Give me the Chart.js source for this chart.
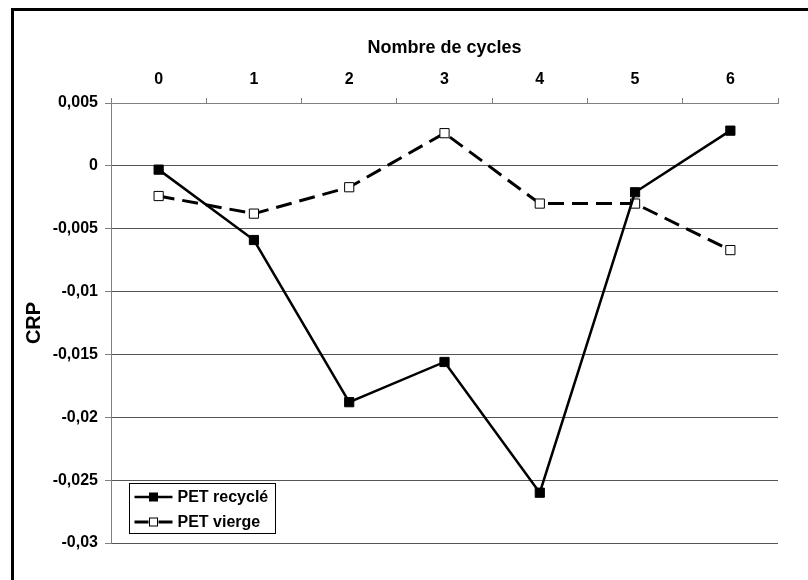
<!DOCTYPE html>
<html>
<head>
<meta charset="utf-8">
<script src="https://cdn.jsdelivr.net/npm/chart.js@4.4.0/dist/chart.umd.min.js"></script>
<style>
  html, body { margin: 0; padding: 0; background: #fff; }
  #wrap { width: 808px; height: 580px; }
</style>
</head>
<body>
<div id="wrap"><canvas id="myChart" width="808" height="580"></canvas></div>
<script>
// CRP values per cycle
const cycles = ['0', '1', '2', '3', '4', '5', '6']
const petRecycle = [-0.0003, -0.0059, -0.0188, -0.0156, -0.026, -0.0021, 0.0028]
const petVierge = [-0.0024, -0.0038, -0.0017, 0.0026, -0.003, -0.003, -0.0067]
const seriesNames = ['PET recyclé', 'PET vierge']
const yTicks = [0.005, 0, -0.005, -0.01, -0.015, -0.02, -0.025, -0.03]

Chart.defaults.font.family = "'Liberation Sans', Arial, sans-serif"
Chart.defaults.color = '#000'

const boldFont = (size) => ({ size: size, weight: 'bold' })

// thick black frame around the figure (only top and left edges fit in view)
const framePlugin = {
    id: 'frame',
    beforeDraw(chart) {
        const ctx = chart.ctx
        ctx.save()
        ctx.fillStyle = '#fff'
        ctx.fillRect(0, 0, chart.width, chart.height)
        ctx.fillStyle = '#000'
        ctx.fillRect(11, 8, chart.width - 11, 3)
        ctx.fillRect(11, 8, 3, chart.height - 8)
        ctx.restore()
    }
}

// boxed legend sitting in the lower left corner of the plot
const boxLegend = {
    id: 'boxLegend',
    afterDraw(chart) {
        const ctx = chart.ctx
        const area = chart.chartArea
        const x = area.left + 18.5
        const y = area.bottom - 59.5
        ctx.save()
        ctx.fillStyle = '#fff'
        ctx.fillRect(x, y, 146, 50)
        ctx.strokeStyle = '#000'
        ctx.lineWidth = 1
        ctx.strokeRect(x, y, 146, 50)

        chart.data.datasets.forEach((ds, i) => {
            const cy = y + 13.5 + i * 25
            const x0 = x + 5
            const x1 = x + 43
            ctx.strokeStyle = ds.borderColor
            ctx.lineWidth = ds.borderWidth
            if (ds.borderDash) {
                ctx.setLineDash([14, 10])
            } else {
                ctx.setLineDash([])
            }
            ctx.beginPath()
            ctx.moveTo(x0, cy)
            ctx.lineTo(x1, cy)
            ctx.stroke()
            ctx.setLineDash([])
            ctx.fillStyle = ds.pointBackgroundColor
            ctx.fillRect(x + 20, cy - 4, 8, 8)
            ctx.strokeStyle = ds.pointBorderColor
            ctx.lineWidth = 1
            ctx.strokeRect(x + 20, cy - 4, 8, 8)

            ctx.fillStyle = '#000'
            ctx.font = "bold 16px 'Liberation Sans', Arial, sans-serif"
            ctx.textBaseline = 'middle'
            ctx.textAlign = 'left'
            ctx.fillText(ds.label, x + 48, cy + 1)
        })
        ctx.restore()
    }
}

function drawChart() {
    const ctx = document.getElementById('myChart').getContext('2d')

    const myChart = new Chart(ctx, {
        type: 'line',
        data: {
            labels: cycles,
            datasets: [{
                label: seriesNames[0],
                data: petRecycle,
                borderColor: '#000',
                borderWidth: 2.5,
                pointStyle: 'rect',
                pointRadius: 6.5,
                pointBackgroundColor: '#000',
                pointBorderColor: '#000',
                pointBorderWidth: 1,
                tension: 0
            }, {
                label: seriesNames[1],
                data: petVierge,
                borderColor: '#000',
                borderWidth: 3,
                borderDash: [16, 8],
                pointStyle: 'rect',
                pointRadius: 6.5,
                pointBackgroundColor: '#fff',
                pointBorderColor: '#000',
                pointBorderWidth: 1,
                tension: 0
            }]
        },
        options: {
            responsive: false,
            animation: false,
            layout: {
                padding: { left: 14, top: 30, right: 30, bottom: 37 }
            },
            plugins: {
                legend: { display: false },
                tooltip: { enabled: false }
            },
            scales: {
                x: {
                    position: 'top',
                    offset: true,
                    grid: {
                        offset: true,
                        drawOnChartArea: false,
                        tickLength: 5,
                        tickColor: '#808080'
                    },
                    border: { color: '#808080', width: 1 },
                    ticks: { font: boldFont(16), padding: 9, maxRotation: 0 },
                    title: {
                        display: true,
                        text: 'Nombre de cycles',
                        font: boldFont(18),
                        padding: { top: 7, bottom: 0 }
                    },
                    afterFit: (scale) => { scale.height = 73 }
                },
                y: {
                    min: -0.03,
                    max: 0.005,
                    afterBuildTicks: (scale) => {
                        scale.ticks = yTicks.map(v => ({ value: v }))
                    },
                    grid: {
                        color: '#555',
                        tickLength: 6,
                        tickColor: '#808080'
                    },
                    border: { color: '#808080', width: 1 },
                    ticks: {
                        font: boldFont(16),
                        padding: 7,
                        callback: (v) => String(v).replace('.', ',')
                    },
                    title: {
                        display: true,
                        text: 'CRP',
                        font: boldFont(20),
                        padding: { top: 8, bottom: 0 }
                    },
                    afterFit: (scale) => { scale.width = 97 }
                }
            }
        },
        plugins: [framePlugin, boxLegend]
    })
}

window.onload = () => {
    drawChart()
}
</script>
</body>
</html>
